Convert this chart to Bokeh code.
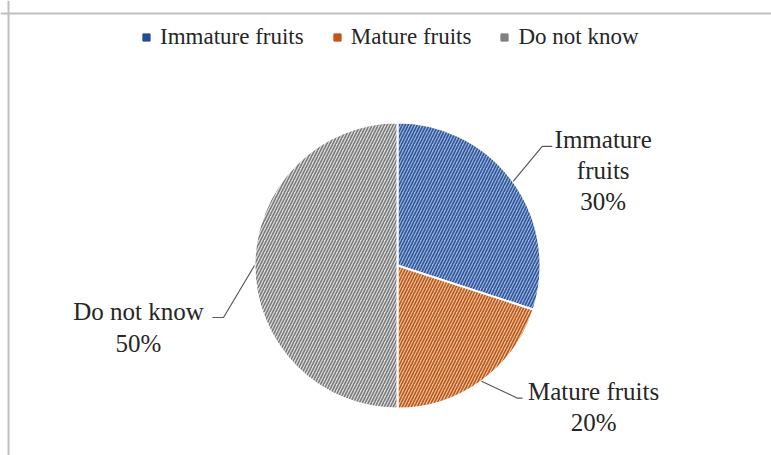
import math
from bokeh.plotting import figure
from bokeh.models import ColumnDataSource, Legend, LegendItem, Span
from bokeh.core.properties import value
from bokeh.embed import file_html
from bokeh.resources import INLINE

# ---- data ----
categories = ["Immature fruits", "Mature fruits", "Do not know"]
percent = [30, 20, 50]
label_texts = ["Immature\nfruits\n30%", "Mature fruits\n20%", "Do not know\n50%"]

# ---- styles ----
fill_colors = ["#9AB3E0", "#F6BC93", "#DEDEDE"]
hatch_colors = ["#2F5597", "#B35A1F", "#7A7A7A"]
legend_colors = ["#1F4E99", "#C0561A", "#808080"]
FONT = "'Liberation Serif', 'Times New Roman', serif"
TEXT_COLOR = "#262626"

W, H = 771, 455
CX, CY, R = 397, 190, 143

# label layout offsets (screen px, y up) relative to slice edge point
label_dx = [90, 112, -116]
label_dy = [11, -26, -62]
elbow_dx = [29, 36, -31]
elbow_dy = [35, -17, -52]
tail_dx = [10, 5, -11]

# angles (clockwise from top)
starts, ends, mids = [], [], []
acc = 0.0
for v in percent:
    a0 = math.radians(90 - acc / 100 * 360)
    acc += v
    a1 = math.radians(90 - acc / 100 * 360)
    starts.append(a1)
    ends.append(a0)
    mids.append((a0 + a1) / 2)

p = figure(width=W, height=H, x_range=(0, W), y_range=(0, H),
           output_backend="svg", toolbar_location=None,
           min_border=0, outline_line_color=None)
p.axis.visible = False
p.grid.visible = False
p.background_fill_color = "white"
p.border_fill_color = "white"

# frame lines (top and left only visible in the reference)
p.add_layout(Span(location=442, dimension="width", line_color="#BFBFBF", line_width=2))
p.add_layout(Span(location=8, dimension="height", line_color="#BFBFBF", line_width=2))

src = ColumnDataSource(dict(
    start=starts, end=ends, fill=fill_colors, hatch=hatch_colors,
    x=[CX] * 3, y=[CY] * 3,
))
p.wedge(x="x", y="y", radius=R, start_angle="start", end_angle="end",
        fill_color="fill", hatch_pattern="/", hatch_color="hatch",
        hatch_scale=6, hatch_weight=1.6,
        line_color="white", line_width=2, source=src)

# leader lines and labels
xs, ys, lx, ly = [], [], [], []
for i, m in enumerate(mids):
    ex = CX + R * math.cos(m)
    ey = CY + R * math.sin(m)
    bx, by = ex + elbow_dx[i], ey + elbow_dy[i]
    xs.append([ex, bx, bx + tail_dx[i]])
    ys.append([ey, by, by])
    lx.append(ex + label_dx[i])
    ly.append(ey + label_dy[i])
p.multi_line(xs=xs, ys=ys, line_color="#595959", line_width=1.2)
p.text(x=lx, y=ly, text=label_texts, text_align="center", text_baseline="middle",
       text_font=value(FONT), text_font_size="25px", text_color=TEXT_COLOR,
       text_line_height=1.15)

# legend (proxy square markers placed outside the visible range)
items = []
for c, lab in zip(legend_colors, categories):
    r = p.scatter(x=[-1000], y=[-1000], marker="square", size=7, color=c)
    items.append(LegendItem(label=lab, renderers=[r]))
legend = Legend(items=items, orientation="horizontal", location=(137, 405),
                padding=0, margin=0, spacing=24, label_standoff=5,
                glyph_width=18, glyph_height=18,
                border_line_color=None, background_fill_alpha=0,
                label_text_font=FONT, label_text_font_size="23px",
                label_text_color=TEXT_COLOR)
p.add_layout(legend)

open("out.html", "w").write(file_html(p, INLINE))
